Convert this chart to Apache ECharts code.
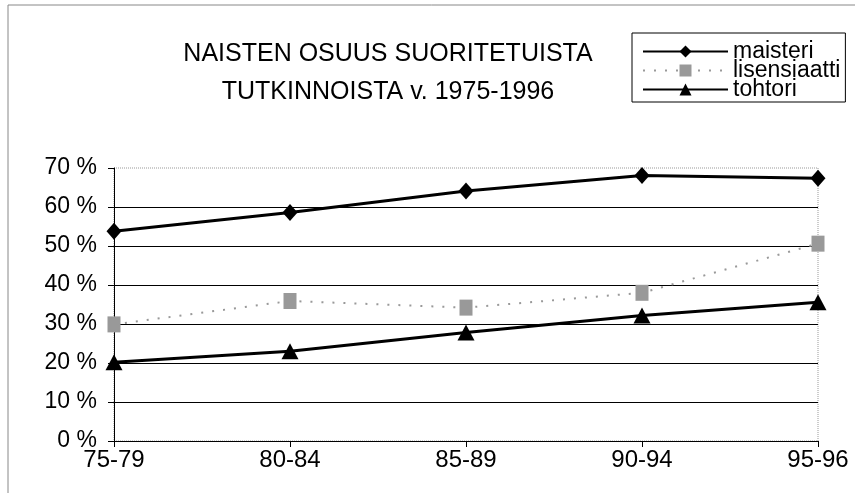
<!doctype html>
<html>
<head>
  <meta charset="utf-8">
  <script src="https://cdn.jsdelivr.net/npm/echarts@6/dist/echarts.min.js"></script>
  <style>
    html, body { margin: 0; padding: 0; background: #fff; }
    #chart { width: 855px; height: 493px; }
  </style>
</head>
<body>
  <div id="chart"></div>
  <script type="text/javascript">
    var periods = ['75-79', '80-84', '85-89', '90-94', '95-96'];
    var maisteri = [53.8, 58.6, 64.1, 68.1, 67.4];
    var lisensiaatti = [29.9, 35.9, 34.2, 38.0, 50.6];
    var tohtori = [20.2, 23.0, 27.8, 32.2, 35.6];
    var font = 'Liberation Sans, Arial, sans-serif';

    var myChart = echarts.init(document.getElementById('chart'));
    var option = {
      backgroundColor: '#fff',
      animation: false,
      title: {
        text: 'NAISTEN OSUUS SUORITETUISTA\nTUTKINNOISTA v. 1975-1996',
        left: 383,
        top: 30,
        textAlign: 'center',
        textStyle: {
          fontFamily: font,
          fontSize: 25,
          fontWeight: 'normal',
          color: '#000',
          lineHeight: 38
        }
      },
      legend: {
        orient: 'vertical',
        left: 632,
        top: 33,
        padding: [7, 5, 1, 10],
        itemGap: -4,
        itemWidth: 85,
        itemHeight: 15,
        borderColor: '#000',
        borderWidth: 1,
        textStyle: { fontFamily: font, fontSize: 23, color: '#000' },
        data: ['maisteri', 'lisensiaatti', 'tohtori']
      },
      grid: {
        left: 114,
        right: 37,
        top: 168,
        bottom: 52,
        show: true,
        borderColor: '#999',
        borderType: 'dotted',
        borderWidth: 1
      },
      xAxis: {
        type: 'category',
        data: periods,
        boundaryGap: false,
        axisLine: { lineStyle: { color: '#000', width: 1 } },
        axisTick: { show: true, length: 6, alignWithLabel: true, lineStyle: { color: '#000' } },
        axisLabel: { fontFamily: font, fontSize: 24, color: '#000', margin: 7 },
        splitLine: { show: false }
      },
      yAxis: {
        type: 'value',
        min: 0,
        max: 70,
        interval: 10,
        axisLine: { show: true, lineStyle: { color: '#000', width: 1 } },
        axisTick: { show: true, length: 6, lineStyle: { color: '#000' } },
        axisLabel: { fontFamily: font, fontSize: 23, color: '#000', margin: 17, formatter: '{value} %' },
        splitLine: { show: true, showMinLine: false, showMaxLine: false, lineStyle: { color: '#000', width: 1 } }
      },
      series: [{
        name: 'maisteri',
        type: 'line',
        data: maisteri,
        symbol: 'diamond',
        symbolSize: [15, 17],
        itemStyle: { color: '#000' },
        lineStyle: { color: '#000', width: 3 }
      }, {
        name: 'lisensiaatti',
        type: 'line',
        data: lisensiaatti,
        symbol: 'rect',
        symbolSize: [13, 16],
        itemStyle: { color: '#999' },
        lineStyle: { color: '#999', width: 2, type: [2, 9] }
      }, {
        name: 'tohtori',
        type: 'line',
        data: tohtori,
        symbol: 'triangle',
        symbolSize: [17, 16],
        itemStyle: { color: '#000' },
        lineStyle: { color: '#000', width: 3 }
      }],
      graphic: [{
        // scanned page edge, top and left only
        type: 'polyline',
        shape: { points: [[855, 5], [8, 5], [8, 493]] },
        style: { fill: 'none', stroke: '#888', lineWidth: 1 },
        silent: true
      }]
    };
    myChart.setOption(option);
  </script>
</body>
</html>
